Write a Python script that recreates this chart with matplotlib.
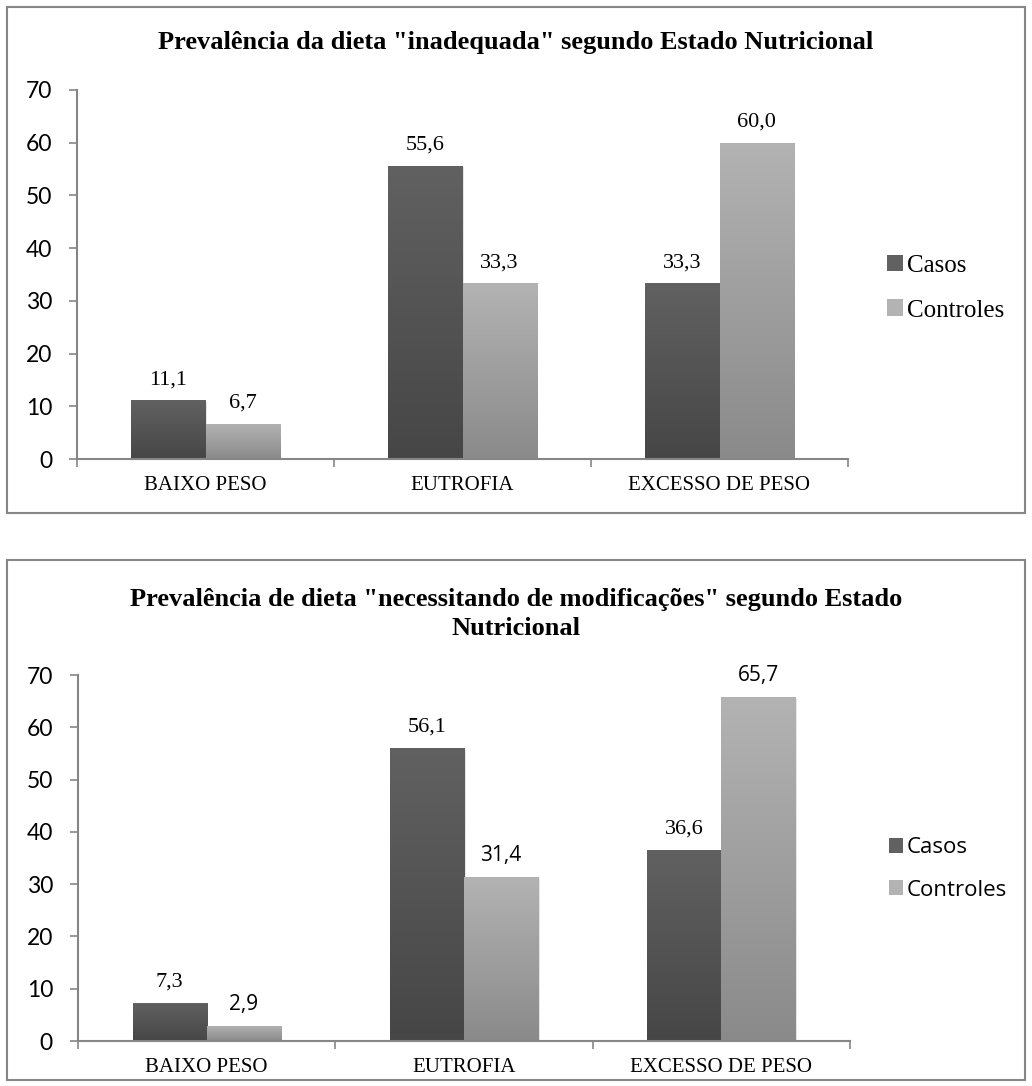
import numpy as np
import matplotlib
matplotlib.use('Agg')
import matplotlib.pyplot as plt
from matplotlib.patches import Rectangle, Patch

categories = ['BAIXO PESO', 'EUTROFIA', 'EXCESSO DE PESO']
series = ['Casos', 'Controles']

title_top = 'Prevalência da dieta "inadequada" segundo Estado Nutricional'
casos_top = [11.1, 55.6, 33.3]
controles_top = [6.7, 33.3, 60.0]

title_bottom = 'Prevalência de dieta "necessitando de modificações" segundo Estado\nNutricional'
casos_bottom = [7.3, 56.1, 36.6]
controles_bottom = [2.9, 31.4, 65.7]

yticks = [0, 10, 20, 30, 40, 50, 60, 70]

SERIF = 'Liberation Serif'
SANS = 'Lato'
AXIS_GRAY = '#868686'

# gradient colours top -> bottom
grad_casos = ('#616161', '#464646')
grad_controles = ('#b3b3b3', '#8a8a8a')


def gradient_bar(ax, x, h, w, colors):
    # soft shadow to the lower right
    ax.add_patch(Rectangle((x + 0.006, 0), w, h - 0.25, facecolor='#000000',
                           alpha=0.10, edgecolor='none', zorder=1.5))
    rect = Rectangle((x, 0), w, h, facecolor='none', edgecolor='none')
    ax.add_patch(rect)
    c0 = np.array(matplotlib.colors.to_rgb(colors[0]))
    c1 = np.array(matplotlib.colors.to_rgb(colors[1]))
    t = np.linspace(0, 1, 256)[:, None]
    img = (c0 * (1 - t) + c1 * t)[:, None, :]
    im = ax.imshow(img, extent=(x, x + w, 0, h), origin='upper',
                   aspect='auto', zorder=2, interpolation='bicubic')
    im.set_clip_path(rect)


def draw_panel(fig, rect, border, title, casos, controles, title_y,
               legend_fonts, label_fonts, legend_y, legend_size, legend_space):
    # outer frame like the Excel chart area
    fig.add_artist(Rectangle(border[:2], border[2], border[3],
                             transform=fig.transFigure, fill=False,
                             edgecolor=AXIS_GRAY, lw=1.5))
    ax = fig.add_axes(rect)
    x = np.arange(len(categories))
    w = 0.288
    for i in range(len(categories)):
        gradient_bar(ax, x[i] - w, casos[i], w, grad_casos)
        gradient_bar(ax, x[i], controles[i], w, grad_controles)
        ax.annotate(f'{casos[i]:.1f}'.replace('.', ','), (x[i] - w / 2, casos[i]),
                    xytext=(0, 8), textcoords='offset points', ha='center',
                    va='bottom', fontsize=16, family=label_fonts[0])
        ax.annotate(f'{controles[i]:.1f}'.replace('.', ','), (x[i] + w / 2, controles[i]),
                    xytext=(0, 8), textcoords='offset points', ha='center',
                    va='bottom', fontsize=15 if label_fonts[1] != SERIF else 16,
                    family=label_fonts[1])

    ax.set_xlim(-0.5, 2.5)
    ax.set_ylim(0, 70)
    ax.set_yticks(yticks)
    ax.set_yticklabels([str(v) for v in yticks], family=SANS, fontsize=16.5)
    ax.set_xticks(x)
    ax.set_xticklabels(categories, family=SERIF, fontsize=15)
    ax.set_xticks([-0.5, 0.5, 1.5, 2.5], minor=True)
    ax.tick_params(axis='x', which='major', length=0, pad=12)
    ax.tick_params(axis='x', which='minor', length=6, direction='out',
                   color=AXIS_GRAY, width=1.2)
    ax.tick_params(axis='y', length=6, direction='out', color=AXIS_GRAY,
                   width=1.2, pad=12)
    for s in ['top', 'right']:
        ax.spines[s].set_visible(False)
    for s in ['left', 'bottom']:
        ax.spines[s].set_color(AXIS_GRAY)
        ax.spines[s].set_linewidth(1.5)

    fig.text(0.5, title_y, title, ha='center', va='center', family=SERIF,
             fontsize=19, fontweight='bold', linespacing=1.3)

    handles = [Patch(facecolor=grad_casos[0], edgecolor='none'),
               Patch(facecolor=grad_controles[0], edgecolor='none')]
    leg = ax.legend(handles, series, loc='center left',
                    bbox_to_anchor=(1.05, legend_y), frameon=False,
                    borderaxespad=0, borderpad=0,
                    handlelength=0.65, handleheight=0.65, handletextpad=0.15,
                    labelspacing=legend_space, fontsize=legend_size)
    for txt, fam in zip(leg.get_texts(), legend_fonts):
        txt.set_family(fam)
    return ax


W, H = 1032, 1086
fig = plt.figure(figsize=(W / 100, H / 100), dpi=100)

draw_panel(fig, [77 / W, 1 - 459 / H, 771 / W, 369 / H],
           [7 / W, 1 - 513 / H, 1018 / W, 506 / H],
           title_top, casos_top, controles_top, 1 - 43 / H,
           (SERIF, SERIF), (SERIF, SERIF), 0.463, 18, 0.9)

draw_panel(fig, [78 / W, 1 - 1041 / H, 772 / W, 366 / H],
           [7 / W, 1 - 1080 / H, 1018 / W, 520 / H],
           title_bottom, casos_bottom, controles_bottom, 1 - 614 / H,
           ('Open Sans', 'Open Sans'), (SERIF, 'Open Sans'), 0.47, 16, 0.95)

fig.savefig('out.png', dpi=100)
